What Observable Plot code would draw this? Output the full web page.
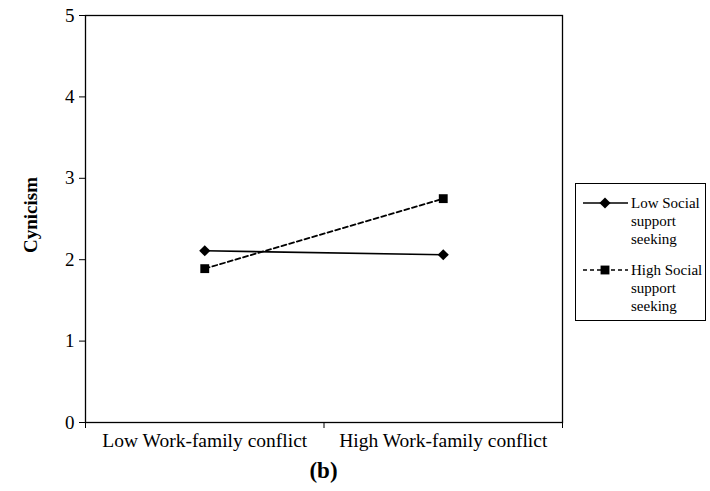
<!DOCTYPE html>
<html><head><meta charset="utf-8">
<script src="https://cdn.jsdelivr.net/npm/d3@7"></script>
<script src="https://cdn.jsdelivr.net/npm/@observablehq/plot@0.6"></script>
<style>body{margin:0;background:#fff;} svg{font-family:"Liberation Serif",serif;}</style>
</head><body><div id="chart"></div>
<script>
const categories = ["Low Work-family conflict", "High Work-family conflict"];
const seriesNames = ["Low Social support seeking", "High Social support seeking"];
const lowSupport = [2.11, 2.06];
const highSupport = [1.89, 2.75];
const yTicks = [0, 1, 2, 3, 4, 5];

const data = [];
categories.forEach((c, i) => {
  data.push({series: seriesNames[0], x: i + 0.5, y: lowSupport[i]});
  data.push({series: seriesNames[1], x: i + 0.5, y: highSupport[i]});
});

const W = 710, H = 491, mL = 85, mR = 148, mT = 15, mB = 69;
const plot = Plot.plot({
  width: W, height: H,
  marginLeft: mL, marginRight: mR, marginTop: mT, marginBottom: mB,
  style: {fontFamily: "Liberation Serif, serif", fontSize: "19px", color: "#000", background: "#fff"},
  x: {type: "linear", domain: [0, categories.length]},
  y: {domain: [0, 5]},
  marks: [
    Plot.frame({stroke: "#000", strokeWidth: 1.3}),
    Plot.axisY({ticks: yTicks, tickFormat: d3.format("d"), tickSize: 6, tickPadding: 5, label: null, fontSize: 19}),
    Plot.axisX({ticks: d3.range(categories.length + 1), tickFormat: () => "", tickSize: 6, label: null}),
    Plot.axisX({ticks: categories.map((c, i) => i + 0.5), tickFormat: (d) => categories[Math.floor(d)], tickSize: 0, tickPadding: 11, label: null, fontSize: 19.5}),
    Plot.line(data.filter(d => d.series === seriesNames[0]), {x: "x", y: "y", stroke: "#000", strokeWidth: 1.6}),
    Plot.line(data.filter(d => d.series === seriesNames[1]), {x: "x", y: "y", stroke: "#000", strokeWidth: 1.8, strokeDasharray: "5,3"}),
    Plot.dot(data.filter(d => d.series === seriesNames[0]), {x: "x", y: "y", symbol: "diamond2", r: 5, fill: "#000", stroke: "none"}),
    Plot.dot(data.filter(d => d.series === seriesNames[1]), {x: "x", y: "y", symbol: "square", r: 5, fill: "#000", stroke: "none"})
  ]
});
document.getElementById("chart").appendChild(plot);

const svg = d3.select(plot);
// y-axis label
svg.append("text").attr("transform", "translate(37,215) rotate(-90)")
  .attr("text-anchor", "middle").style("font-weight", "bold").style("font-size", "19px").text("Cynicism");
// caption
svg.append("text").attr("x", (mL + W - mR) / 2).attr("y", 478)
  .attr("text-anchor", "middle").style("font-weight", "bold").style("font-size", "23px").text("(b)");
// legend
const lg = svg.append("g");
lg.append("rect").attr("x", 575.5).attr("y", 183.5).attr("width", 130).attr("height", 137)
  .attr("fill", "#fff").attr("stroke", "#000").attr("stroke-width", 1);
const legendLines = [["Low Social", "support", "seeking"], ["High Social", "support", "seeking"]];
const sym = [d3.symbol(d3.symbolDiamond2, Math.PI * 25)(), d3.symbol(d3.symbolSquare, Math.PI * 25)()];
legendLines.forEach((lines, k) => {
  const y0 = 203 + k * 67;
  lg.append("line").attr("x1", 583).attr("x2", 628).attr("y1", y0).attr("y2", y0)
    .attr("stroke", "#000").attr("stroke-width", 1.6).attr("stroke-dasharray", k ? "4,3" : null);
  lg.append("path").attr("d", sym[k]).attr("transform", `translate(605,${y0})`).attr("fill", "#000");
  lines.forEach((t, j) => {
    lg.append("text").attr("x", 631).attr("y", y0 + 5 + j * 18).attr("text-anchor", "start")
      .style("font-size", "15px").text(t);
  });
});
</script></body></html>
